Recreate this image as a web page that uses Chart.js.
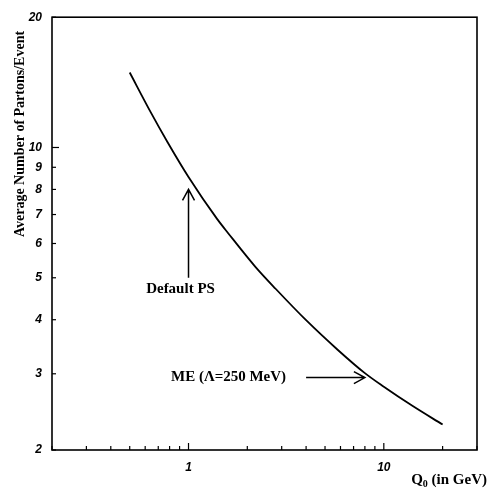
<!DOCTYPE html>
<html>
<head>
<meta charset="utf-8">
<script src="https://cdn.jsdelivr.net/npm/chart.js@4.4.0/dist/chart.umd.min.js"></script>
<style>
  html, body { margin: 0; padding: 0; background: #fff; }
  #wrap { width: 487px; height: 489px; }
</style>
</head>
<body>
<div id="wrap"><canvas id="grafico"></canvas></div>
<script>
// Q0 (GeV) y número medio de partones por evento
const q0 = [0.5, 0.64, 0.78, 1.0, 1.4, 1.6, 2.2, 2.8, 4.0, 5.8, 8.0, 10, 14, 20];
const partones = [14.9, 12.07, 10.3, 8.55, 6.84, 6.33, 5.3, 4.71, 3.99, 3.41, 3.01, 2.8, 2.53, 2.29];

// marcas de los ejes
const ticksX = [0.2, 0.3, 0.4, 0.5, 0.6, 0.7, 0.8, 0.9, 1, 2, 3, 4, 5, 6, 7, 8, 9, 10, 20, 30];
const etiquetasX = [1, 10];
const ticksY = [2, 3, 4, 5, 6, 7, 8, 9, 10, 20];

// flechas con su texto (en unidades de los datos)
const flechaPS = { x: 1, yPunta: 8.0, yBase: 5.0, texto: 'Default PS' };
const flechaME = { y: 2.94, xInicio: 4.0, xPunta: 8.0, texto: 'ME (\u039B=250 MeV)' };

const fuenteTicks = { family: '"Liberation Sans", Arial, sans-serif', size: 12, weight: 'bold', style: 'italic' };
const serif = '"Liberation Serif", "Times New Roman", serif';

// Dibuja el marco, las marcas hacia dentro, las flechas y los títulos
const extras = {
    id: 'extras',
    afterDraw(chart) {
        const { ctx, chartArea: a, scales: { x, y } } = chart;
        ctx.save();
        ctx.strokeStyle = '#000';
        ctx.fillStyle = '#000';

        // marco
        ctx.lineWidth = 1.6;
        ctx.strokeRect(a.left, a.top, a.right - a.left, a.bottom - a.top);

        // marcas del eje X hacia arriba
        ctx.lineWidth = 1.2;
        x.ticks.forEach(t => {
            const px = x.getPixelForValue(t.value);
            const largo = etiquetasX.includes(t.value) ? 7 : 4;
            ctx.beginPath();
            ctx.moveTo(px, a.bottom);
            ctx.lineTo(px, a.bottom - largo);
            ctx.stroke();
        });
        // marcas del eje Y hacia la derecha
        y.ticks.forEach(t => {
            const py = y.getPixelForValue(t.value);
            const largo = t.value === 10 ? 7 : 4;
            ctx.beginPath();
            ctx.moveTo(a.left, py);
            ctx.lineTo(a.left + largo, py);
            ctx.stroke();
        });

        // flecha "Default PS"
        const psX = x.getPixelForValue(flechaPS.x);
        const psTop = y.getPixelForValue(flechaPS.yPunta);
        const psBot = y.getPixelForValue(flechaPS.yBase);
        ctx.lineWidth = 1.5;
        ctx.beginPath();
        ctx.moveTo(psX, psBot);
        ctx.lineTo(psX, psTop);
        ctx.moveTo(psX - 6, psTop + 11);
        ctx.lineTo(psX, psTop);
        ctx.lineTo(psX + 6, psTop + 11);
        ctx.stroke();
        ctx.font = 'bold 15px ' + serif;
        ctx.textAlign = 'center';
        ctx.textBaseline = 'middle';
        ctx.fillText(flechaPS.texto, psX - 8, psBot + 11);

        // flecha "ME"
        const meY = y.getPixelForValue(flechaME.y);
        const meX0 = x.getPixelForValue(flechaME.xInicio);
        const meX1 = x.getPixelForValue(flechaME.xPunta);
        ctx.beginPath();
        ctx.moveTo(meX0, meY);
        ctx.lineTo(meX1, meY);
        ctx.moveTo(meX1 - 11, meY - 6);
        ctx.lineTo(meX1, meY);
        ctx.lineTo(meX1 - 11, meY + 6);
        ctx.stroke();
        ctx.textAlign = 'right';
        ctx.fillText(flechaME.texto, meX0 - 20, meY);

        // título del eje Y
        ctx.save();
        ctx.translate(20, 134);
        ctx.rotate(-Math.PI / 2);
        ctx.textAlign = 'center';
        ctx.font = 'bold 14px ' + serif;
        ctx.fillText('Average Number of Partons/Event', 0, 0);
        ctx.restore();

        // título del eje X: Q0 (in GeV), con el 0 como subíndice
        ctx.textBaseline = 'alphabetic';
        ctx.textAlign = 'right';
        ctx.font = 'bold 15px ' + serif;
        const resto = ' (in GeV)';
        const derecha = 487;
        ctx.fillText(resto, derecha, 484);
        let xpos = derecha - ctx.measureText(resto).width;
        ctx.font = 'bold 10px ' + serif;
        ctx.fillText('0', xpos, 487);
        xpos -= ctx.measureText('0').width;
        ctx.font = 'bold 15px ' + serif;
        ctx.fillText('Q', xpos, 484);

        ctx.restore();
    }
};

const ctx = document.getElementById('grafico').getContext('2d');
new Chart(ctx, {
    type: 'line',
    data: {
        datasets: [{
            data: q0.map((v, i) => ({ x: v, y: partones[i] })),
            borderColor: '#000',
            borderWidth: 1.8,
            pointRadius: 0,
            fill: false,
            cubicInterpolationMode: 'monotone'
        }]
    },
    options: {
        responsive: true,
        maintainAspectRatio: false,
        animation: false,
        layout: { padding: { top: 15, right: 2, left: 0, bottom: 0 } },
        plugins: {
            legend: { display: false },
            tooltip: { enabled: false }
        },
        scales: {
            x: {
                type: 'logarithmic',
                min: 0.2,
                max: 30,
                afterBuildTicks: s => { s.ticks = ticksX.map(v => ({ value: v })); },
                afterFit: s => { s.height = 39; },
                grid: { display: false, drawTicks: false },
                border: { display: false },
                ticks: {
                    autoSkip: false,
                    maxRotation: 0,
                    minRotation: 0,
                    padding: 10,
                    color: '#000',
                    font: fuenteTicks,
                    callback: v => etiquetasX.includes(v) ? String(v) : ''
                }
            },
            y: {
                type: 'logarithmic',
                min: 2,
                max: 20,
                afterBuildTicks: s => { s.ticks = ticksY.map(v => ({ value: v })); },
                afterFit: s => { s.width = 52; },
                grid: { display: false, drawTicks: false },
                border: { display: false },
                ticks: {
                    autoSkip: false,
                    padding: 10,
                    color: '#000',
                    font: fuenteTicks,
                    callback: v => String(v)
                }
            }
        }
    },
    plugins: [extras]
});
</script>
</body>
</html>
